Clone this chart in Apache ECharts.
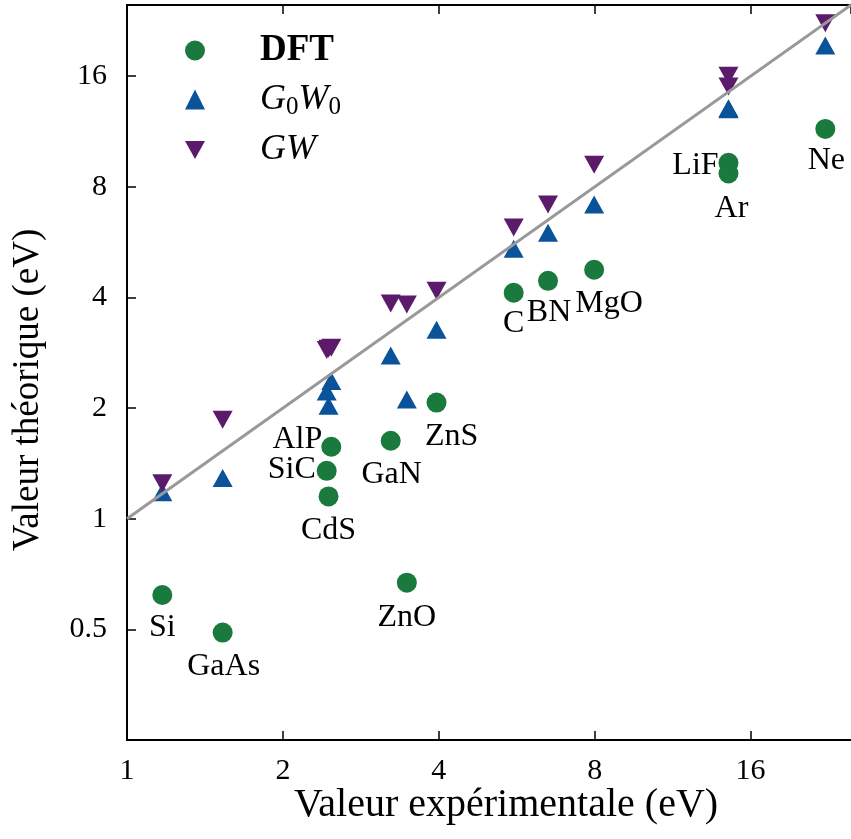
<!DOCTYPE html>
<html>
<head>
<meta charset="utf-8">
<title>Gaps</title>
<script src="https://cdn.jsdelivr.net/npm/echarts@6/dist/echarts.min.js"></script>
<style>
  html, body { margin: 0; padding: 0; background: #fff; }
  #main { width: 851px; height: 839px; }
</style>
</head>
<body>
<div id="main"></div>
<script>
  // matériaux, même ordre pour toutes les séries
  var materials = ['Si', 'GaAs', 'AlP', 'SiC', 'CdS', 'GaN', 'ZnO', 'ZnS', 'C', 'BN', 'MgO', 'LiF', 'Ar', 'Ne']
  var expGap  = [1.17, 1.53, 2.48, 2.43, 2.45, 3.23, 3.47, 3.96, 5.58, 6.5, 7.98, 14.5, 14.5, 22.3]
  var dftGap  = [0.62, 0.49, 1.57, 1.35, 1.15, 1.63, 0.67, 2.07, 4.12, 4.44, 4.76, 9.3, 8.7, 11.5]
  var g0w0Gap = [1.18, 1.29, 2.37, 2.22, 2.03, 2.78, 2.11, 3.27, 5.43, 6.0, 7.16, 13.1, 13.0, 19.4]
  var gwGap   = [1.25, 1.86, 2.92, 2.88, 2.9, 3.85, 3.83, 4.17, 6.2, 7.16, 9.19, 16.05, 15.0, 22.3]
  var xTicks = [1, 2, 4, 8, 16]
  var yTicks = [0.5, 1, 2, 4, 8, 16]
  var refLine = [[1, 1], [25, 25]]   // droite y = x

  // décalage des étiquettes (px) par rapport au point DFT
  var labelOffset = {
    Si: [0, 33], GaAs: [1, 34], AlP: [-34, -7], SiC: [-35, -1], CdS: [0, 34], GaN: [1, 34], ZnO: [0, 35],
    ZnS: [15, 34], C: [0, 31], BN: [1, 32], MgO: [15, 34], LiF: [-33, 3], Ar: [3, 35], Ne: [1, 32]
  }

  var FONT = 'Liberation Serif'
  var GREEN = '#1a7a3e', BLUE = '#0a5299', PURPLE = '#5c1a6b'
  var DOWN_TRIANGLE = 'path://M0,0L20,0L10,18Z'

  function pairs(ys) {
    return expGap.map(function (x, i) { return [x, ys[i]] })
  }

  function tickFormatter(ticks) {
    return function (v) {
      for (var i = 0; i < ticks.length; i++) {
        if (Math.abs(v - ticks[i]) < 1e-6 * ticks[i]) return String(ticks[i])
      }
      return ''
    }
  }

  function logAxis(position, min, max, ticks, showLabel, margin) {
    return {
      type: 'log',
      logBase: 2,
      min: min,
      max: max,
      position: position,
      axisLine: { show: true, lineStyle: { color: '#000', width: 2 } },
      axisTick: { show: true, inside: true, length: 9, lineStyle: { color: '#000', width: 1.5 } },
      axisLabel: {
        show: showLabel,
        margin: margin,
        fontFamily: FONT,
        fontSize: 30,
        color: '#000',
        showMinLabel: true,
        showMaxLabel: false,
        formatter: tickFormatter(ticks)
      },
      splitLine: { show: false },
      minorTick: { show: false }
    }
  }

  var dftData = materials.map(function (name, i) {
    return {
      name: name,
      value: [expGap[i], dftGap[i]],
      label: { offset: labelOffset[name] }
    }
  })

  var chart = echarts.init(document.getElementById('main'))
  chart.setOption({
    animation: false,
    backgroundColor: '#fff',
    grid: { left: 127, top: 5, right: -3, bottom: 99 },
    xAxis: [
      logAxis('bottom', 1, 25, xTicks, true, 16),
      logAxis('top', 1, 25, xTicks, false, 16)
    ],
    yAxis: [
      logAxis('left', 0.25, 25, yTicks, true, 20)
    ],
    legend: {
      data: ['DFT', 'G0W0', { name: 'GW', icon: DOWN_TRIANGLE }],
      orient: 'vertical',
      left: 185,
      top: 32,
      padding: 0,
      itemWidth: 20,
      itemHeight: 20,
      itemGap: 12.5,
      formatter: function (name) {
        if (name === 'DFT') return '{g|}{b|DFT}'
        if (name === 'G0W0') return '{g|}{i|G}{s|0}{i|W}{s|0}'
        return '{g|}{i|GW}'
      },
      textStyle: {
        fontFamily: FONT,
        color: '#000',
        rich: {
          g: { width: 50, lineHeight: 40 },
          b: { fontFamily: FONT, fontWeight: 'bold', fontSize: 37, lineHeight: 40, color: '#000' },
          i: { fontFamily: FONT, fontStyle: 'italic', fontSize: 36, lineHeight: 40, color: '#000' },
          s: { fontFamily: FONT, fontSize: 25, lineHeight: 20, verticalAlign: 'bottom', color: '#000' }
        }
      }
    },
    graphic: [
      {
        type: 'text', x: 506, y: 805,
        style: { text: 'Valeur expérimentale (eV)', font: '40px "Liberation Serif"', fill: '#000', align: 'center', verticalAlign: 'middle' }
      },
      {
        type: 'text', x: 28, y: 390, rotation: Math.PI / 2,
        style: { text: 'Valeur théorique (eV)', font: '37px "Liberation Serif"', fill: '#000', align: 'center', verticalAlign: 'middle' }
      }
    ],
    series: [
      {
        name: 'y=x',
        type: 'line',
        data: refLine,
        showSymbol: false,
        silent: true,
        z: 5,
        lineStyle: { color: '#999', width: 3 }
      },
      {
        name: 'DFT',
        type: 'scatter',
        symbol: 'circle',
        symbolSize: 20,
        itemStyle: { color: GREEN, opacity: 1 },
        label: {
          show: true,
          position: 'inside',
          formatter: '{b}',
          fontFamily: FONT,
          fontSize: 32,
          color: '#000'
        },
        data: dftData
      },
      {
        name: 'G0W0',
        type: 'scatter',
        symbol: 'triangle',
        symbolSize: [20, 18],
        itemStyle: { color: BLUE, opacity: 1 },
        data: pairs(g0w0Gap)
      },
      {
        name: 'GW',
        type: 'scatter',
        symbol: 'triangle',
        symbolRotate: 180,
        symbolSize: [20, 18],
        itemStyle: { color: PURPLE, opacity: 1 },
        data: pairs(gwGap)
      }
    ]
  })
</script>
</body>
</html>
